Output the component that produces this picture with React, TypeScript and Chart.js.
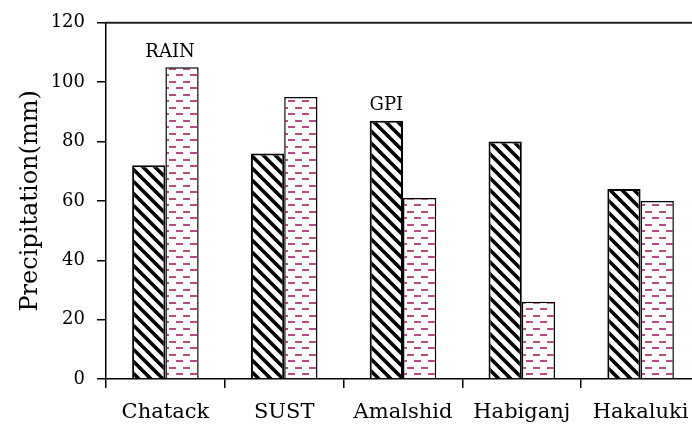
import React, { useEffect, useRef } from 'react';
import { Chart, registerables } from 'chart.js';
Chart.register(...registerables);

const categories = ['Chatack', 'SUST', 'Amalshid', 'Habiganj', 'Hakaluki'];
const gpiValues = [72, 76, 87, 80, 64];
const rainValues = [105, 95, 61, 26, 60];
const seriesNames = ['GPI', 'RAIN'];
// index of the category above whose bar each series name is written
const seriesLabelCategory = [2, 0];

const FONT = "'DejaVu Serif', serif";

function makeHatch(): CanvasPattern | string {
  const s = 12;
  const c = document.createElement('canvas');
  c.width = s; c.height = s;
  const g = c.getContext('2d');
  if (!g) return '#fff';
  g.fillStyle = '#fff';
  g.fillRect(0, 0, s, s);
  g.strokeStyle = '#000';
  g.lineWidth = 3.6;
  g.beginPath();
  g.moveTo(-2, -2); g.lineTo(s + 2, s + 2);
  g.moveTo(-2, s - 2); g.lineTo(2, s + 2);
  g.moveTo(s - 2, -2); g.lineTo(s + 2, 2);
  g.stroke();
  return g.createPattern(c, 'repeat') as CanvasPattern;
}

function makeDash(): CanvasPattern | string {
  const c = document.createElement('canvas');
  c.width = 14; c.height = 13;
  const g = c.getContext('2d');
  if (!g) return '#fff';
  g.fillStyle = '#fff';
  g.fillRect(0, 0, 14, 13);
  g.fillStyle = '#b94a83';
  g.fillRect(1, 3, 7, 2);
  g.fillRect(8, 9, 6, 2);
  g.fillRect(0, 9, 1, 2);
  return g.createPattern(c, 'repeat') as CanvasPattern;
}

const seriesLabelPlugin = {
  id: 'seriesLabels',
  afterDatasetsDraw(chart: any) {
    const ctx = chart.ctx;
    ctx.save();
    ctx.fillStyle = '#000';
    ctx.font = `18px ${FONT}`;
    ctx.textAlign = 'center';
    ctx.textBaseline = 'bottom';
    const xShift = [0, -12];
    seriesNames.forEach((name, di) => {
      const el = chart.getDatasetMeta(di).data[seriesLabelCategory[di]];
      if (!el) return;
      ctx.fillText(name, el.x + xShift[di], el.y - 6);
    });
    ctx.restore();
  },
};

const framePlugin = {
  id: 'frameTop',
  afterDraw(chart: any) {
    const { ctx, chartArea } = chart;
    ctx.save();
    ctx.strokeStyle = '#222';
    ctx.lineWidth = 2;
    ctx.beginPath();
    ctx.moveTo(chartArea.left, chartArea.top);
    ctx.lineTo(chartArea.right + 20, chartArea.top);
    ctx.stroke();
    ctx.restore();
  },
};

export default function App() {
  const ref = useRef<HTMLCanvasElement | null>(null);
  useEffect(() => {
    if (!ref.current) return;
    const chart = new Chart(ref.current, {
      type: 'bar',
      data: {
        labels: categories,
        datasets: [
          {
            label: seriesNames[0],
            data: gpiValues,
            backgroundColor: makeHatch() as any,
            borderColor: '#000',
            borderWidth: 2,
            borderSkipped: 'bottom',
            categoryPercentage: 0.56,
            barPercentage: 1,
          },
          {
            label: seriesNames[1],
            data: rainValues,
            backgroundColor: makeDash() as any,
            borderColor: '#000',
            borderWidth: 1.5,
            borderSkipped: 'bottom',
            categoryPercentage: 0.56,
            barPercentage: 1,
          },
        ],
      },
      options: {
        responsive: false,
        animation: false,
        layout: { padding: { left: 0, top: 20, right: 20, bottom: 0 } },
        plugins: {
          legend: { display: false },
          tooltip: { enabled: false },
        },
        scales: {
          x: {
            offset: true,
            grid: {
              display: true,
              offset: true,
              drawOnChartArea: false,
              drawTicks: true,
              tickLength: 9,
              color: '#000',
              lineWidth: 1.5,
            },
            border: { display: true, color: '#000', width: 1.5 },
            ticks: { color: '#000', font: { family: FONT, size: 21 }, padding: 12 },
            afterFit(scale: any) { scale.height = 55; },
          },
          y: {
            min: 0,
            max: 120,
            ticks: { stepSize: 20, color: '#000', font: { family: FONT, size: 18 }, padding: 12 },
            grid: {
              display: true,
              drawOnChartArea: false,
              drawTicks: true,
              tickLength: 9,
              color: '#000',
              lineWidth: 1.5,
            },
            border: { display: true, color: '#000', width: 1.5 },
            title: {
              display: true,
              text: 'Precipitation(mm)',
              color: '#000',
              font: { family: FONT, size: 24 },
              padding: { top: 16, bottom: 0 },
            },
            afterFit(scale: any) { scale.width = 106; },
          },
        },
      },
      plugins: [seriesLabelPlugin, framePlugin],
    });
    return () => chart.destroy();
  }, []);
  return (
    <div style={{ position: 'fixed', left: 0, top: 0, width: 692, height: 434, overflow: 'hidden', background: '#fff' }}>
      <canvas ref={ref} width={720} height={434} style={{ width: 720, height: 434, display: 'block' }} />
    </div>
  );
}
